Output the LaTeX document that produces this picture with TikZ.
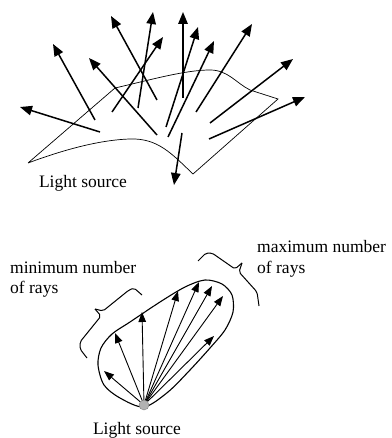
\documentclass[tikz,border=0pt]{standalone}
\usepackage{fontspec}
\setmainfont{Liberation Serif}
\usetikzlibrary{arrows.meta}

\begin{document}
\begin{tikzpicture}[x=1pt, y=-1pt, >={Triangle[length=12pt, width=9.5pt]},
  ray/.style={->, line width=1.5pt},
  fan/.style={-{Triangle[length=10pt, width=7.5pt]}, line width=0.9pt},
  lbl/.style={font=\fontsize{17.5}{20.5}\selectfont, inner sep=0pt, align=left}]

  \useasboundingbox (0,0) rectangle (391,438);

  % lit surface
  \draw[line width=0.7pt] (28,163) -- (115,88)
    .. controls (150,80) and (185,70) .. (210,70)
    .. controls (228,70) and (236,83) .. (250,90) -- (278,99) -- (193,174)
    .. controls (172,154) and (158,138) .. (130,139)
    .. controls (95,140) and (55,153) .. (28,163);

  % rays leaving the surface
  \foreach \xa/\ya/\xb/\yb in {100/132/20/107, 95/120/53/44, 157/135/89/58,
      157/100/111/16, 112/112/163/37, 138/108/153/12, 183/98/183/12,
      166/127/198/27, 168/137/214/41, 196/112/252/24, 210/123/293/59,
      209/139/305/97, 182/133/174/185}
    \draw[ray] (\xa,\ya) -- (\xb,\yb);

  \node[lbl, anchor=base] (srcA) at (83,188) {Light source};

  % emission lobe
  \coordinate (src) at (144,405);
  \draw[line width=1.1pt] plot[smooth cycle] coordinates {
    (144,407) (120,398) (104,385) (98,365) (101,348) (112,334) (130,322)
    (160,302) (185,287) (205,280) (222,284) (232,295) (233,312) (225,330)
    (210,348) (190,370) (168,392)};

  \foreach \x/\y in {104/371, 115/333, 142/312, 178/291, 199/282,
      212/286, 223/296, 214/336}
    \draw[fan] (src) -- (\x,\y);

  \node[circle, draw=gray, fill=gray!60, minimum size=10pt, inner sep=0pt]
    (srcdot) at (src) {};
  \node[lbl, anchor=base] (srcB) at (137,434) {Light source};

  % braces and their labels
  \draw[line width=1pt, rounded corners=2pt]
    (142,295) -- (134,288) -- (129,290) -- (103,311) -- (95,309);
  \draw[line width=1pt, rounded corners=2pt]
    (95,309) -- (101,316) -- (80,342) -- (80,349) -- (87,358);
  \draw[line width=1pt, rounded corners=2pt]
    (198,261) -- (206,253) -- (212,253) -- (235,269) -- (242,263);
  \draw[line width=1pt, rounded corners=2pt]
    (242,263) -- (239,272) -- (257,292) -- (259,306);

  \node[lbl, anchor=base west] (minlbl) at (10,273) {minimum number};
  \node[lbl, anchor=base west] (minlbl2) at (10,293) {of rays};
  \node[lbl, anchor=base west] (maxlbl) at (257,252) {maximum number};
  \node[lbl, anchor=base west] (maxlbl2) at (257,273) {of rays};

\end{tikzpicture}
\end{document}
